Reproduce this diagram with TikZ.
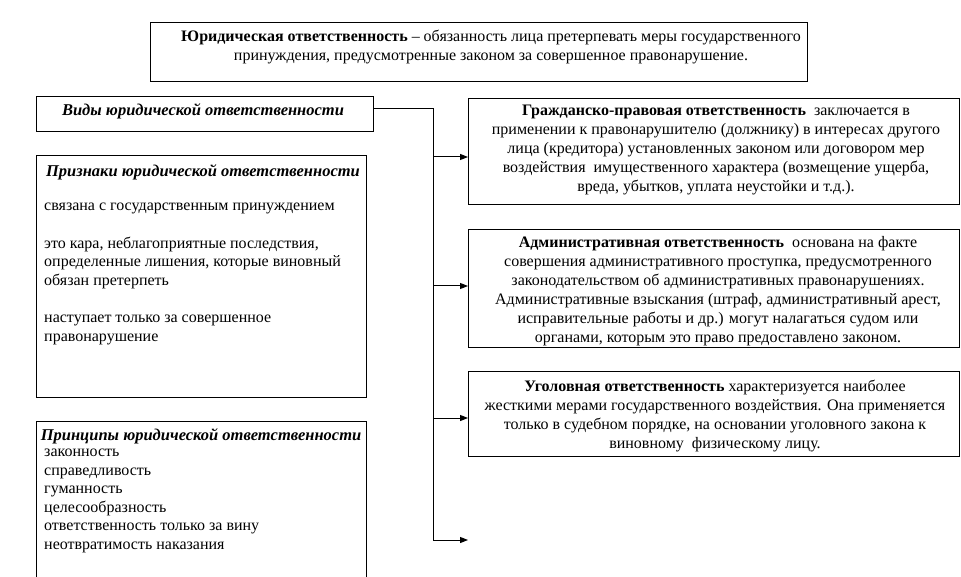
\documentclass[tikz,border=0pt]{standalone}
\usepackage{fontspec}
\setmainfont{Liberation Serif}
\usetikzlibrary{arrows.meta}
\tikzset{
  box/.style={draw, line width=1pt, inner sep=0pt, anchor=north west},
  txt/.style={inner sep=0pt, font=\fontsize{16}{19}\selectfont, align=center},
  ltxt/.style={inner sep=0pt, font=\fontsize{16}{18.6}\selectfont, align=left, anchor=west},
  ttl/.style={inner sep=0pt, font=\fontsize{16.5}{19}\selectfont\bfseries\itshape},
  conn/.style={line width=1pt},
  arr/.style={line width=1pt, -{Triangle[length=8pt,width=6pt]}}
}
\begin{document}
\begin{tikzpicture}[x=1pt,y=-1pt]
\useasboundingbox (0,0) rectangle (961,577);
% boxes
\node[box, minimum width=657, minimum height=59] (def) at (150,22) {};
\node[box, minimum width=337, minimum height=35] (vid) at (36,96) {};
\node[box, minimum width=330, minimum height=242] (prz) at (36,155) {};
\node[box, minimum width=330, minimum height=156] (prn) at (36,421) {};
\node[box, minimum width=491, minimum height=106] (b1) at (468,98) {};
\node[box, minimum width=491, minimum height=118] (b2) at (468,229) {};
\node[box, minimum width=491, minimum height=85] (b3) at (468,371) {};
% texts
\node[txt] (tdef) at (491,47) {\textbf{Юридическая ответственность} – обязанность лица претерпевать меры государственного\\
принуждения, предусмотренные законом за совершенное правонарушение.};
\node[ttl] (tvid) at (203,111) {Виды юридической ответственности};
\node[ttl] (tprz) at (203,172) {Признаки юридической ответственности};
\node[ltxt] (lprz) at (44,274) {связана с государственным принуждением\\[18.6pt]
это кара, неблагоприятные последствия,\\
определенные лишения, которые виновный\\
обязан претерпеть\\[18.6pt]
наступает только за совершенное\\
правонарушение};
\node[ttl] (tprn) at (201,436) {Принципы юридической ответственности};
\node[ltxt] (lprn) at (44,501) {законность\\
справедливость\\
гуманность\\
целесообразность\\
ответственность только за вину\\
неотвратимость наказания};
\node[txt] (t1) at (716,150) {\textbf{Гражданско-правовая ответственность}\ \ заключается в\\
применении к правонарушителю (должнику) в интересах другого\\
лица (кредитора) установленных законом или договором мер\\
воздействия\ \ имущественного характера (возмещение ущерба,\\
вреда, убытков, уплата неустойки и т.д.).};
\node[txt] (t2) at (718,291) {\textbf{Административная ответственность}\ \ основана на факте\\
совершения административного проступка, предусмотренного\\
законодательством об административных правонарушениях.\\
Административные взыскания (штраф, административный арест,\\
исправительные работы и др.) могут налагаться судом или\\
органами, которым это право предоставлено законом.};
\node[txt] (t3) at (715,416) {\textbf{Уголовная ответственность} характеризуется наиболее\\
жесткими мерами государственного воздействия. Она применяется\\
только в судебном порядке, на основании уголовного закона к\\
виновному\ \ физическому лицу.};
% connectors
\coordinate (j0) at (433,109);
\coordinate (j1) at (433,157);
\coordinate (j2) at (433,286);
\coordinate (j3) at (433,418);
\coordinate (j4) at (433,540);
\coordinate (e4) at (468,540);
\draw[conn] (vid.east |- j0) -- (j0) -- (j4);
\draw[arr] (j1) -- (b1.west |- j1);
\draw[arr] (j2) -- (b2.west |- j2);
\draw[arr] (j3) -- (b3.west |- j3);
\draw[arr] (j4) -- (e4);
\end{tikzpicture}
\end{document}
